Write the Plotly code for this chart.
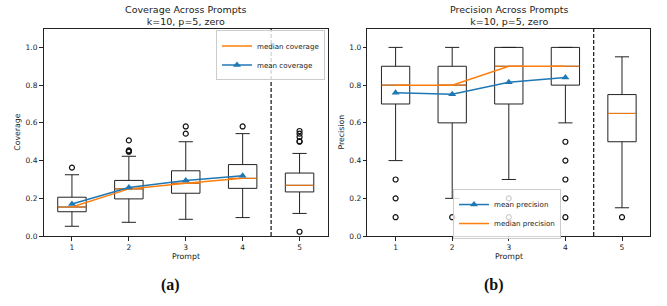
import plotly.graph_objects as go

prompts = [1, 2, 3, 4, 5]

# Coverage box statistics
cov_q1 = [0.129, 0.197, 0.227, 0.253, 0.234]
cov_med = [0.154, 0.250, 0.280, 0.306, 0.269]
cov_q3 = [0.206, 0.295, 0.346, 0.379, 0.334]
cov_lo = [0.052, 0.073, 0.089, 0.098, 0.120]
cov_hi = [0.325, 0.423, 0.500, 0.543, 0.438]
cov_out = [[0.363], [0.447, 0.450, 0.454, 0.507], [0.543, 0.581], [0.581],
           [0.023, 0.500, 0.503, 0.525, 0.543, 0.557]]
cov_mean = [0.170, 0.257, 0.295, 0.320]

# Precision box statistics
pre_q1 = [0.70, 0.60, 0.70, 0.80, 0.50]
pre_med = [0.80, 0.80, 0.90, 0.90, 0.65]
pre_q3 = [0.90, 0.90, 1.00, 1.00, 0.75]
pre_lo = [0.40, 0.20, 0.30, 0.60, 0.15]
pre_hi = [1.00, 1.00, 1.00, 1.00, 0.95]
pre_out = [[0.1, 0.2, 0.3], [0.1], [0.1, 0.2], [0.1, 0.2, 0.3, 0.4, 0.5], [0.1]]
pre_mean = [0.759, 0.752, 0.815, 0.841]

BLUE = "#1f77b4"
ORANGE = "#ff7f0e"
FONT = "DejaVu Sans"
BOXW = 0.5

fig = go.Figure()


def add_panel(xa, ya, q1, med, q3, lo, hi, outs, means, name, legend, mean_first):
    fig.add_trace(go.Box(
        x=prompts, q1=q1, median=med, q3=q3, lowerfence=lo, upperfence=hi,
        width=BOXW, whiskerwidth=0.5, boxpoints=False,
        line=dict(color="#222222", width=1), fillcolor="rgba(0,0,0,0)",
        showlegend=False, xaxis=xa, yaxis=ya, hoverinfo="skip"))
    # median segments in orange
    sx, sy = [], []
    for p, m in zip(prompts, med):
        sx += [p - BOXW / 2, p + BOXW / 2, None]
        sy += [m, m, None]
    fig.add_trace(go.Scatter(x=sx, y=sy, mode="lines",
                             line=dict(color=ORANGE, width=1),
                             showlegend=False, xaxis=xa, yaxis=ya))
    # outliers
    ox, oy = [], []
    for p, vals in zip(prompts, outs):
        ox += [p] * len(vals)
        oy += vals
    fig.add_trace(go.Scatter(x=ox, y=oy, mode="markers",
                             marker=dict(symbol="circle-open", size=5, color="#111111",
                                         line=dict(width=1.2)),
                             showlegend=False, xaxis=xa, yaxis=ya))
    mean_tr = go.Scatter(x=prompts[:4], y=means, mode="lines+markers",
                         name=f"mean {name}", line=dict(color=BLUE, width=1.5),
                         marker=dict(symbol="triangle-up", size=7, color=BLUE),
                         xaxis=xa, yaxis=ya, legend=legend)
    med_tr = go.Scatter(x=prompts[:4], y=med[:4], mode="lines",
                        name=f"median {name}", line=dict(color=ORANGE, width=1.5),
                        xaxis=xa, yaxis=ya, legend=legend)
    if mean_first:
        fig.add_trace(mean_tr)
        fig.add_trace(med_tr)
    else:
        fig.add_trace(med_tr)
        fig.add_trace(mean_tr)


add_panel("x", "y", cov_q1, cov_med, cov_q3, cov_lo, cov_hi, cov_out, cov_mean,
          "coverage", "legend", False)
add_panel("x2", "y2", pre_q1, pre_med, pre_q3, pre_lo, pre_hi, pre_out, pre_mean,
          "precision", "legend2", True)

W, H = 667, 306
y0, y1 = 1 - 240 / H, 1 - 29 / H
dom1 = [43.5 / W, 328 / W]
dom2 = [367.3 / W, 650.3 / W]

axis_common = dict(showline=True, mirror=True, linecolor="#222222", linewidth=1,
                   ticks="outside", ticklen=3.5, tickwidth=0.8, tickcolor="#222222",
                   showgrid=False, zeroline=False,
                   tickfont=dict(family=FONT, size=7.5, color="#222222"))
xcommon = dict(axis_common, range=[0.5, 5.5], tickvals=prompts,
               ticktext=[str(p) for p in prompts])
ycommon = dict(axis_common, range=[0, 1.1], tickvals=[0, 0.2, 0.4, 0.6, 0.8, 1.0],
               tickformat=".1f")

legend_style = dict(bgcolor="rgba(255,255,255,0.8)", bordercolor="#cccccc", borderwidth=1,
                    font=dict(family=FONT, size=7.1, color="#222222"),
                    tracegroupgap=0, itemwidth=30)

fig.update_layout(
    width=W, height=H, margin=dict(l=0, r=0, t=0, b=0),
    paper_bgcolor="white", plot_bgcolor="white",
    xaxis=dict(xcommon, domain=dom1, anchor="y"),
    yaxis=dict(ycommon, domain=[y0, y1], anchor="x"),
    xaxis2=dict(xcommon, domain=dom2, anchor="y2"),
    yaxis2=dict(ycommon, domain=[y0, y1], anchor="x2"),
    legend=dict(legend_style, x=325 / W, y=1 - 31 / H, xanchor="right", yanchor="top"),
    legend2=dict(legend_style, x=561 / W, y=1 - 243 / H, xanchor="right", yanchor="bottom"),
    showlegend=True,
)

# dashed separators at 4.5
for xa, ya in [("x", "y"), ("x2", "y2")]:
    fig.add_shape(type="line", xref=xa, yref=f"{ya} domain", x0=4.5, x1=4.5, y0=0, y1=1,
                  line=dict(color="#111111", width=1.2, dash="4px,2px"))

ann = []
for dom, title, ylabel, cap in [(dom1, "Coverage Across Prompts", "Coverage", "(a)"),
                                (dom2, "Precision Across Prompts", "Precision", "(b)")]:
    cx = (dom[0] + dom[1]) / 2
    ann.append(dict(x=cx, y=1 - 15.5 / H, xref="paper", yref="paper", showarrow=False,
                    text=f"{title}<br>k=10, p=5, zero", xanchor="center", yanchor="middle",
                    font=dict(family=FONT, size=9.5, color="#222222")))
    ann.append(dict(x=cx, y=1 - 261 / H, xref="paper", yref="paper", showarrow=False,
                    text="Prompt", xanchor="center", yanchor="middle",
                    font=dict(family=FONT, size=7.8, color="#222222")))
    ann.append(dict(x=dom[0] - 26 / W, y=(y0 + y1) / 2, xref="paper", yref="paper",
                    showarrow=False, text=ylabel, textangle=-90,
                    xanchor="center", yanchor="middle",
                    font=dict(family=FONT, size=7.8, color="#222222")))
    ann.append(dict(x=(dom[0] + dom[1]) / 2 - 15 / W, y=1 - 290 / H, xref="paper", yref="paper",
                    showarrow=False, text=f"<b>{cap}</b>", xanchor="center", yanchor="middle",
                    font=dict(family="Liberation Serif", size=16, color="#111111")))
fig.update_layout(annotations=ann)

fig.write_html("out.html", config={"displayModeBar": False})

# remove the default browser body margin so the figure sits at the page origin
with open("out.html", encoding="utf-8") as f:
    html = f.read()
html = html.replace("<head>", "<head><style>html,body{margin:0;padding:0;}</style>", 1)
with open("out.html", "w", encoding="utf-8") as f:
    f.write(html)
